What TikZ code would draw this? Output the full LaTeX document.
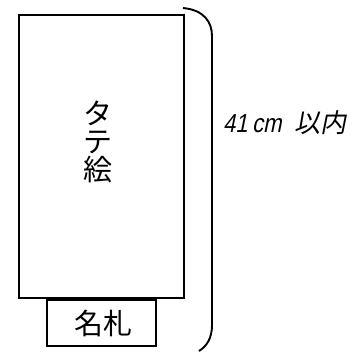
\documentclass[tikz,border=0pt]{standalone}
\usepackage{fontspec}
\newfontfamily\jpfont{Noto Sans CJK JP}
\newfontfamily\jpslant[FakeSlant=0.2]{Noto Sans CJK JP}
\newfontfamily\latslant[FakeSlant=0.2,FakeStretch=0.85]{Liberation Sans}
\begin{document}
\begin{tikzpicture}[x=1pt,y=-1pt,
  frame/.style={draw=black,line width=1.7pt},
  bracket/.style={draw=black,line width=1.9pt},
  lbl/.style={inner sep=0pt,font=\jpfont\fontsize{29}{31}\selectfont}]
\useasboundingbox (0,0) rectangle (359,351);
\node[frame,minimum width=165pt,minimum height=283pt,inner sep=0pt] (main) at (101.5,156.5) {};
\node[frame,minimum width=109pt,minimum height=46pt,inner sep=0pt] (tag) at (101.5,323) {};
\node[lbl,align=center] (tate) at (97.5,142) {タ\\[-3pt]テ\\[-3pt]絵};
\node[lbl] (name) at (103,323) {名札};
\coordinate (b1) at (183,8);
\coordinate (b2) at (212,36);
\coordinate (b3) at (212,325);
\coordinate (b4) at (199,351);
\draw[bracket] (b1) .. controls (204,10) and (212,22) .. (b2) -- (b3) .. controls (212,338) and (207,346) .. (b4);
\node[inner sep=0pt,anchor=west] (len) at (223,123) {\latslant\fontsize{26}{28}\selectfont 41\,cm\hspace{13pt}\jpslant\fontsize{26}{28}\selectfont 以内};
\end{tikzpicture}
\end{document}
